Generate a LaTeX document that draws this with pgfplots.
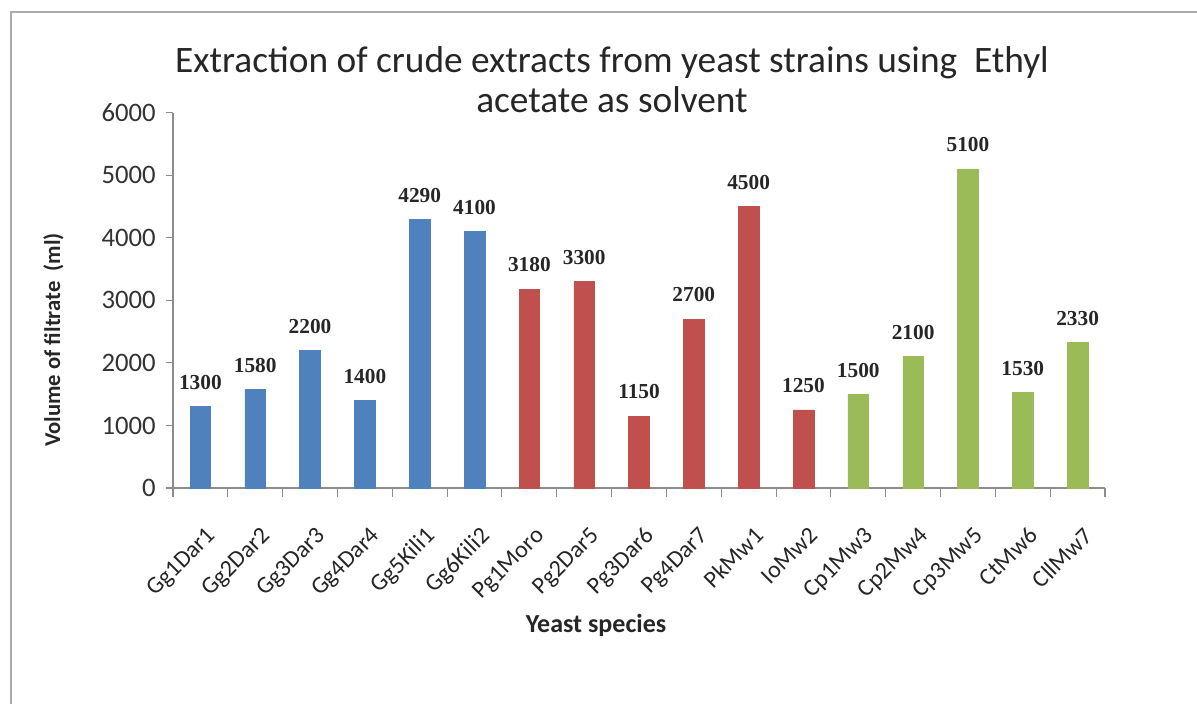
\documentclass[border=0pt]{standalone}
\usepackage{fontspec}
\setmainfont{Carlito}
\newfontfamily\serifb{Liberation Serif}
\usepackage{pgfplots}
\pgfplotsset{compat=1.18}
\definecolor{b1}{HTML}{4F81BD}
\definecolor{r1}{HTML}{C0504D}
\definecolor{g1}{HTML}{9BBB59}
\definecolor{axc}{HTML}{8C8C8C}
\definecolor{frc}{HTML}{ABABAB}
\begin{document}
\begin{tikzpicture}[x=1pt,y=1pt]
\path[use as bounding box] (0,0) rectangle (897.75,528);
\draw[frc, line width=1.5pt] (8.25,0) -- (8.25,519) -- (897.75,519);
\begin{axis}[
  at={(129.75pt,162pt)}, anchor=south west,
  scale only axis, width=699pt, height=281.5pt,
  ybar, bar width=15.5pt,
  xmin=-0.5, xmax=16.5, ymin=0, ymax=6000,
  axis x line*=bottom, axis y line*=left,
  axis line style={axc, line width=0.8pt, -},
  xtick={0,...,16},
  xticklabels={Gg1Dar1,Gg2Dar2,Gg3Dar3,Gg4Dar4,Gg5Kili1,Gg6Kili2,Pg1Moro,Pg2Dar5,Pg3Dar6,Pg4Dar7,PkMw1,IoMw2,Cp1Mw3,Cp2Mw4,Cp3Mw5,CtMw6,CllMw7},
  major x tick style={draw=none},
  minor xtick={-0.5,0.5,...,16.5},
  minor x tick style={axc, line width=0.8pt},
  minor tick length=6.75pt,
  ytick={0,1000,...,6000},
  major y tick style={axc, line width=0.8pt},
  major tick length=5.5pt,
  tick align=outside,
  /pgf/number format/assume math mode=true,
  /pgf/number format/1000 sep={},
  yticklabel style={font=\fontsize{20}{23}\selectfont, text=black!80, xshift=-4pt},
  xticklabel style={font=\fontsize{18}{21}\selectfont, text=black!85, xshift=3.5pt, yshift=-21pt, rotate=45, anchor=north east, inner sep=1pt},
  nodes near coords,
  every node near coord/.append style={font=\serifb\bfseries\fontsize{16}{17}\selectfont, text=black!85, inner sep=0pt, yshift=12.5pt},
]
\addplot[fill=b1, draw=b1, bar shift=0pt] coordinates {(0,1300)(1,1580)(2,2200)(3,1400)(4,4290)(5,4100)};
\addplot[fill=r1, draw=r1, bar shift=0pt] coordinates {(6,3180)(7,3300)(8,1150)(9,2700)(10,4500)(11,1250)};
\addplot[fill=g1, draw=g1, bar shift=0pt] coordinates {(12,1500)(13,2100)(14,5100)(15,1530)(16,2330)};
\end{axis}
\node[align=center, font=\fontsize{28}{30}\selectfont, text=black!85] at (459,468) {Extraction of crude extracts from yeast strains using~~Ethyl\\acetate as solvent};
\node[font=\bfseries\fontsize{19.5}{22}\selectfont, text=black!85] at (447,59.25) {Yeast species};
\node[font=\bfseries\fontsize{17}{20}\selectfont, text=black!85, rotate=90] at (40,273) {Volume of filtrate~~(ml)};
\end{tikzpicture}
\end{document}
